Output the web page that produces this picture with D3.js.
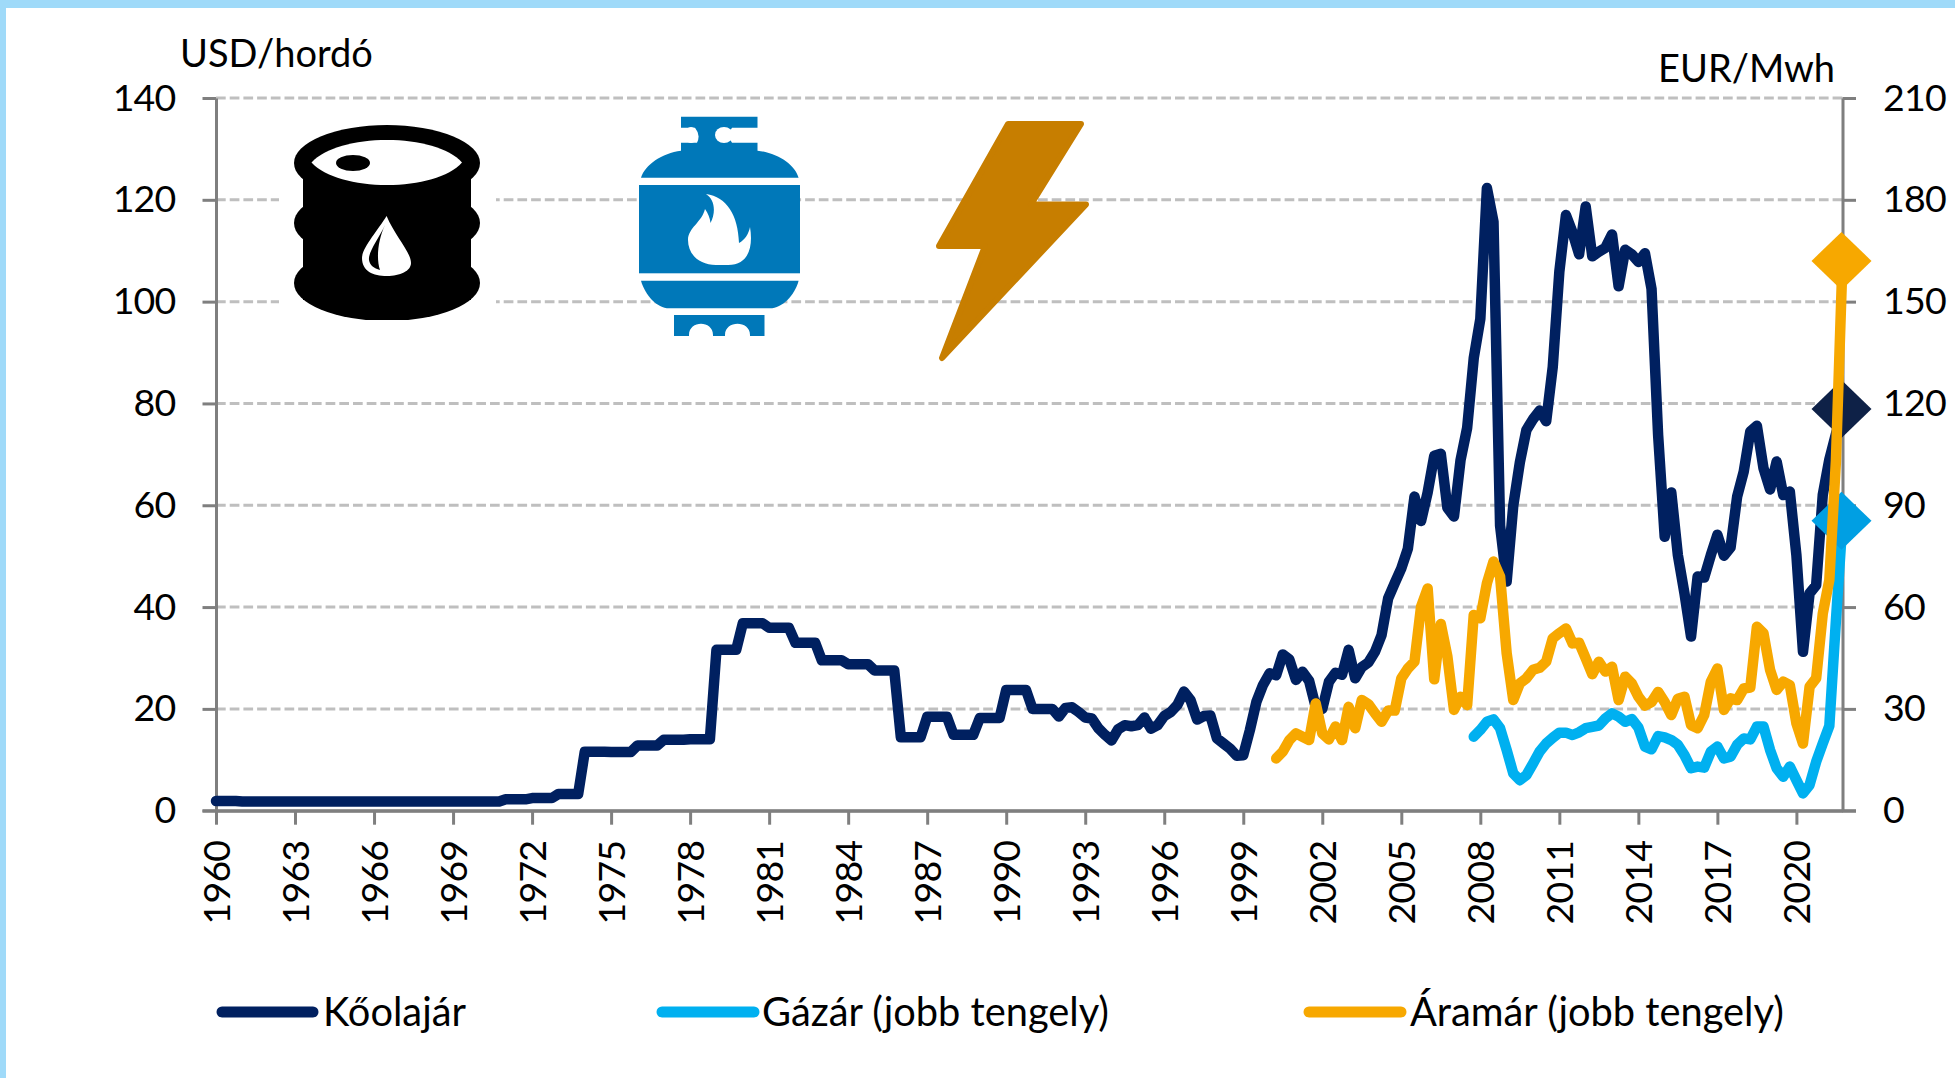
<!DOCTYPE html>
<html><head><meta charset="utf-8">
<script src="https://cdn.jsdelivr.net/npm/d3@7"></script>
<style>html,body{margin:0;padding:0;background:#fff;overflow:hidden}svg{display:block}text{font-family:Lato,"Noto Sans",sans-serif;fill:#000}</style>
</head><body><div id="c"></div>
<script>
const oilStart = 1960;
const oilValues = [
1.9,1.9,1.9,1.9, 1.8,1.8,1.8,1.8, 1.8,1.8,1.8,1.8, 1.8,1.8,1.8,1.8,
1.8,1.8,1.8,1.8, 1.8,1.8,1.8,1.8, 1.8,1.8,1.8,1.8, 1.8,1.8,1.8,1.8,
1.8,1.8,1.8,1.8, 1.8,1.8,1.8,1.8, 1.8,1.8,1.8,1.8,
2.24,2.24,2.24,2.24, 2.48,2.48,2.48,2.48, 3.29,3.29,3.29,3.29,
11.58,11.58,11.58,11.58, 11.53,11.53,11.53,11.53, 12.8,12.8,12.8,12.8,
13.92,13.92,13.92,13.92, 14.02,14.02,14.02,14.02, 31.61,31.61,31.61,31.61,
36.83,36.83,36.83,36.83, 35.93,35.93,35.93,35.93, 32.97,32.97,32.97,32.97,
29.55,29.55,29.55,29.55, 28.78,28.78,28.78,28.78, 27.56,27.56,27.56,27.56,
14.43,14.43,14.43,14.43, 18.44,18.44,18.44,18.44, 14.92,14.92,14.92,14.92,
18.23,18.23,18.23,18.23, 23.73,23.73,23.73,23.73, 20,20,20,20,
18.5,20.2,20.3,19.4, 18.3,18.1,16.2,14.9, 13.8,16,16.8,16.6, 16.8,18.3,16.1,16.8,
18.6,19.4,20.8,23.4, 21.7,17.9,18.6,18.7, 14.2,13.2,12.2,10.8, 10.9,15.8,21.4,24.7,
27,26.6,30.7,29.7, 25.7,27.3,25.5,20.4, 20,25.3,27.1,26.7, 31.6,26,28.2,29.1,
31.2,34.5,41.7,44.7, 47.6,51.5,61.7,56.9, 62.5,69.7,70.1,59.5, 57.8,68.9,75.2,88.9,
96.6,122.3,115.7,56, 45,59.9,68.4,74.8, 76.9,78.6,76.5,87.2, 105.9,117,113.6,109.3,
118.7,108.9,109.8,110.6, 113.2,103,110.2,109.3, 107.8,109.5,102.5,73.8,
53.8,62.5,50.2,42.7, 34.2,46,45.8,50.2, 54.2,50.1,51.7,61.7, 66.6,74.5,75.6,67.3,
63.1,68.6,62,62.7, 50.2,31.2,42.7,44.3, 62,69,74,78.9];
const gasStart = 2007.75;
const gasValues = [21.8,
23.8,26.2,26.9,24.3, 17.9,11,9,10.5, 13.9,17.4,19.8,21.5, 23,23,22.3,23.1,
24.3,24.7,25.1,27.2, 28.7,27.7,26.2,27, 24.5,18.9,18.1,22, 21.6,20.8,19.4,16.4,
12.5,13,12.7,17.4, 18.9,15.4,15.9,19.4, 21.3,21,24.8,24.8, 17.9,12.5,10,13,
9,5.1,7.6,14.4, 19.8,25,56,85.4];
const powerStart = 2000.25;
const powerValues = [15.4,17.4,20.8,
22.8,21.8,20.8,31.6, 22.8,21,24.8,20.8, 30.6,24.3,32.6,31.4, 28.7,26.2,29.5,29.5,
39,41.9,43.9,60.1, 65.5,38.7,55,45.4, 29.7,33.6,31.1,57.7, 56.7,67,73.4,69,
46.4,32.6,37.5,39, 41.5,42.1,43.9,50.8, 52.3,53.7,49.3,49.5, 44.9,40.2,43.9,41,
42.4,32.6,39.5,37.5, 33.6,31,32,35, 32,28.2,33,33.6, 25.2,24.3,28.2,38,
41.9,29.7,33.1,32.6, 36,36.3,54.2,52.3, 41.5,35.6,38,37, 25.7,19.8,36.5,39,
58,68,103,162];
const yearTicks = [1960,1963,1966,1969,1972,1975,1978,1981,1984,1987,1990,1993,1996,1999,2002,2005,2008,2011,2014,2017,2020];
const leftTicks = [0,20,40,60,80,100,120,140];
const rightTicks = [0,30,60,90,120,150,180,210];
const legendLabels = ["Kőolajár","Gázár (jobb tengely)","Áramár (jobb tengely)"];
const leftTitle = "USD/hordó", rightTitle = "EUR/Mwh";

const W=1955,H=1078, L=216,R=1842.5,T=98,B=810.7;
const svg=d3.select("#c").append("svg").attr("width",W).attr("height",H);
svg.append("rect").attr("width",W).attr("height",8).attr("fill","#9FDAF9");
svg.append("rect").attr("width",6).attr("height",H).attr("fill","#9FDAF9");

const x=d3.scaleLinear().domain([1960,2021.75]).range([L,R]);
const yL=d3.scaleLinear().domain([0,140]).range([B,T]);
const yR=d3.scaleLinear().domain([0,210]).range([B,T]);
const grey="#7F7F7F", FS=37.5;

// grid
svg.append("g").selectAll("line").data(leftTicks.slice(1)).join("line")
 .attr("x1",L).attr("x2",R).attr("y1",d=>yL(d)).attr("y2",d=>yL(d))
 .attr("stroke","#BFBFBF").attr("stroke-width",3).attr("stroke-dasharray","9.7 4");

function styleAxis(g){g.select(".domain").attr("stroke",grey).attr("stroke-width",3);
 g.selectAll(".tick line").attr("stroke",grey).attr("stroke-width",3);
 g.selectAll("text").attr("font-size",FS).attr("fill","#000").attr("letter-spacing",-0.8).style("font-family",'Lato,"Noto Sans",sans-serif');}

const axL=svg.append("g").attr("transform",`translate(${L},0)`)
 .call(d3.axisLeft(yL).tickValues(leftTicks).tickSize(13.5).tickSizeOuter(0).tickPadding(27)).call(styleAxis);
const axR=svg.append("g").attr("transform",`translate(${R},0)`)
 .call(d3.axisRight(yR).tickValues(rightTicks).tickSize(13.5).tickSizeOuter(0).tickPadding(27)).call(styleAxis);
const axB=svg.append("g").attr("transform",`translate(0,${B})`)
 .call(d3.axisBottom(x).tickValues(yearTicks).tickFormat(d3.format("d")).tickSize(14).tickSizeOuter(0)).call(styleAxis);
axB.selectAll("text").attr("transform","rotate(-90)").attr("text-anchor","end").attr("x",-30).attr("y",0).attr("dy","0.36em");
svg.append("line").attr("x1",L-13.5).attr("x2",R+13.5).attr("y1",B).attr("y2",B).attr("stroke",grey).attr("stroke-width",3);

// barrel (with white backing that hides the grid)
svg.append("rect").attr("x",279).attr("y",110).attr("width",217).attr("height",220).attr("fill","#fff");
const barrel=svg.append("g");
barrel.append("defs").append("clipPath").attr("id","bc").append("rect").attr("x",280).attr("y",120).attr("width",210).attr("height",200);
const bb=barrel.append("g").attr("clip-path","url(#bc)");
bb.append("rect").attr("x",303).attr("y",160).attr("width",168).attr("height",140).attr("fill","#000");
[[163,38],[223,38],[283,38]].forEach(([cy,ry])=>bb.append("ellipse").attr("cx",387).attr("cy",cy).attr("rx",93).attr("ry",ry).attr("fill","#000"));
barrel.append("path").attr("d","M311.5 162.5 C325 148 355 140 387 140 C419 140 449 148 462 162.5 C449 177 419 185 387 185 C355 185 325 177 311.5 162.5Z").attr("fill","#fff");
barrel.append("ellipse").attr("cx",353).attr("cy",163).attr("rx",17).attr("ry",8).attr("fill","#000");
barrel.append("path").attr("d","M386.6 216 C395 236 411 252 411 263 C411 271 400 276 387 276 C373 276 362 271 362 258 C362 248 378 230 386.6 216Z").attr("fill","#fff");
barrel.append("path").attr("d","M385 225 C378 240 368 252 369 260 C370 266 374 268 380 270 C376 258 378 240 385 225Z").attr("fill","#000");

// gas cylinder
const gc="#0078B9", gas=svg.append("g");
gas.append("path").attr("fill",gc).attr("d","M681 116.7 H757.5 V127.7 H732 Q726 135 732 142.7 H757.5 V150.7 C778 153 795 165 798.6 177.7 H641 C645 165 662 153 681 150.7 V142.7 H697 Q701 135 695 127.7 H681Z");
gas.append("ellipse").attr("cx",724).attr("cy",135).attr("rx",9).attr("ry",8).attr("fill","#fff");
gas.append("ellipse").attr("cx",691).attr("cy",135).attr("rx",6).attr("ry",8).attr("fill","#fff");
gas.append("rect").attr("x",639).attr("y",185).attr("width",161).attr("height",88.3).attr("fill",gc);
gas.append("path").attr("fill",gc).attr("d","M641 280.7 H798.6 C795 295 782 308.3 770 308.3 H669 C657 308.3 645 295 641 280.7Z");
gas.append("path").attr("fill",gc).attr("d","M674 315 H764.5 V336 H750 V335 C750 320 725 320 725 335 V336 H713 V335 C713 320 689 320 689 335 V336 H674Z");
gas.append("path").attr("fill","#fff").attr("d","M706 194 C727 197 738 215 739 243 C745 240 749 233 750 227 C753 245 750 265 728 265 L716 265 C700 265 688 255 688 240 C688 228 702 222 705 209 C708 213 710 218 710.5 223 C716 212 715 200 706 194Z");

// lightning
svg.append("path").attr("fill","#C77E00").attr("stroke","#C77E00").attr("stroke-width",6).attr("stroke-linejoin","round")
 .attr("d","M1008 124 H1081 L1031 204.5 H1086 L942 358 L985 246 H939Z");

// series
const series=[
 {s:oilStart,v:oilValues,y:yL,c:"#002060",m:"#0E2147"},
 {s:gasStart,v:gasValues,y:yR,c:"#00B0F0",m:"#009FE3"},
 {s:powerStart,v:powerValues,y:yR,c:"#F7A800",m:"#F7A800"}];
series.forEach(o=>{
 const pts=o.v.map((d,i)=>[o.s+i/4,d]);
 svg.append("path").datum(pts).attr("fill","none").attr("stroke",o.c).attr("stroke-width",10.5)
  .attr("stroke-linejoin","round").attr("stroke-linecap","round")
  .attr("d",d3.line().x(p=>x(p[0])).y(p=>o.y(p[1])));
 const l=pts[pts.length-1], cx=x(l[0])-1, cy=o.y(l[1]);
 svg.append("path").attr("fill",o.m).attr("d",`M${cx-30} ${cy}L${cx} ${cy-29}L${cx+30} ${cy}L${cx} ${cy+29}Z`);
});

// titles
svg.append("text").attr("x",180).attr("y",67).attr("font-size",38).text(leftTitle);
svg.append("text").attr("x",1835).attr("y",82).attr("text-anchor","end").attr("font-size",38).text(rightTitle);

// legend
const lg=[[217,318,323],[657,759,762],[1304,1406,1410]];
legendLabels.forEach((t,i)=>{
 svg.append("line").attr("x1",lg[i][0]+5).attr("x2",lg[i][1]-5).attr("y1",1012).attr("y2",1012)
  .attr("stroke",series[i].c).attr("stroke-width",11).attr("stroke-linecap","round");
 svg.append("text").attr("x",lg[i][2]).attr("y",1026).attr("font-size",39.8).text(t);
});
</script></body></html>
